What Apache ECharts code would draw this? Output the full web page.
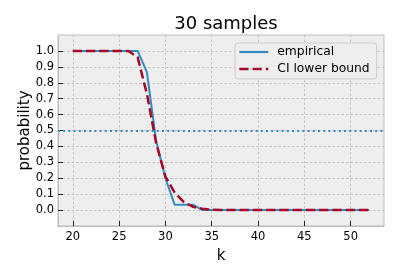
<!DOCTYPE html>
<html>
<head>
<meta charset="utf-8">
<script src="https://cdn.jsdelivr.net/npm/echarts@6/dist/echarts.min.js"></script>
<style>html,body{margin:0;padding:0;background:#fff}#c{width:398px;height:278px}</style>
</head>
<body>
<div id="c"></div>
<script>
const kValues = [20,21,22,23,24,25,26,27,28,29,30,31,32,33,34,35,36,37,38,39,40,41,42,43,44,45,46,47,48,49,50,51,52];
const empirical = [1,1,1,1,1,1,1,1,0.867,0.433,0.2,0.033,0.033,0.033,0,0,0,0,0,0,0,0,0,0,0,0,0,0,0,0,0,0,0];
const ciLower = [1,1,1,1,1,1,1,0.96,0.73,0.42,0.21,0.11,0.05,0.02,0.008,0.003,0.001,0,0,0,0,0,0,0,0,0,0,0,0,0,0,0,0];
const xTicks = [20,25,30,35,40,45,50];
const yTicks = [0,0.1,0.2,0.3,0.4,0.5,0.6,0.7,0.8,0.9,1.0];
const threshold = 0.5;
const title = '30 samples';

const font = 'DejaVu Sans';
const chart = echarts.init(document.getElementById('c'), null, {renderer:'canvas'});
const gridLine = {show:true, lineStyle:{color:'#c4c4c4', width:1, type:[2.5,2]}};
chart.setOption({
  animation:false,
  backgroundColor:'#ffffff',
  title:{text:title, left:221, top:10, textAlign:'center',
    textStyle:{fontFamily:font, fontSize:18, fontWeight:'normal', color:'#000'}},
  grid:{left:58, top:35, right:14, bottom:52, show:true, backgroundColor:'#eeeeee', borderColor:'#bcbcbc', borderWidth:1},
  legend:{
    orient:'vertical', left:235, top:43,
    padding:[3,7,4,3], itemGap:5, itemWidth:29, itemHeight:14,
    backgroundColor:'#eeeeee', borderColor:'#cccccc', borderWidth:1, borderRadius:3,
    itemStyle:{opacity:0},
    textStyle:{fontFamily:font, fontSize:12.3, color:'#000', padding:[0,0,0,4]},
    data:[
      {name:'empirical', lineStyle:{width:2.2, color:'#348ABD'}},
      {name:'CI lower bound', lineStyle:{width:2.6, color:'#A60628', type:[9.25,4]}}
    ]
  },
  xAxis:{
    type:'value', min:18.4, max:53.6,
    name:'k', nameLocation:'middle', nameGap:23, nameMoveOverlap:false,
    nameTextStyle:{fontFamily:font, fontSize:15, color:'#000'},
    axisLine:{show:true, onZero:false, lineStyle:{color:'#bcbcbc', width:1}},
    axisTick:{show:true, inside:true, length:5, lineStyle:{color:'#222', width:1}, customValues:xTicks},
    axisLabel:{fontFamily:font, fontSize:11.5, color:'#000', margin:5, customValues:xTicks, formatter:v=>String(v)},
    splitLine:gridLine
  },
  yAxis:{
    type:'value', min:-0.1, max:1.1,
    name:'probability', nameLocation:'middle', nameGap:25, nameMoveOverlap:false,
    nameTextStyle:{fontFamily:font, fontSize:15, color:'#000'},
    axisLine:{show:true, onZero:false, lineStyle:{color:'#bcbcbc', width:1}},
    axisTick:{show:true, inside:true, length:5, lineStyle:{color:'#222', width:1}, customValues:yTicks},
    axisLabel:{fontFamily:font, fontSize:11.5, color:'#000', margin:4, customValues:yTicks, formatter:v=>v.toFixed(1)},
    splitLine:gridLine
  },
  series:[
    {name:'empirical', type:'line', symbol:'none', data:kValues.map((k,i)=>[k,empirical[i]]),
     lineStyle:{color:'#348ABD', width:2}, itemStyle:{color:'#348ABD'}, z:2,
     markLine:{silent:true, symbol:'none', label:{show:false},
       lineStyle:{color:'#348ABD', width:2, type:[2,3.2]},
       data:[{yAxis:threshold}]}},
    {name:'CI lower bound', type:'line', symbol:'none', data:kValues.map((k,i)=>[k,ciLower[i]]),
     lineStyle:{color:'#A60628', width:2.5, type:[9.25,4]}, itemStyle:{color:'#A60628'}, z:3}
  ]
});
</script>
</body>
</html>
